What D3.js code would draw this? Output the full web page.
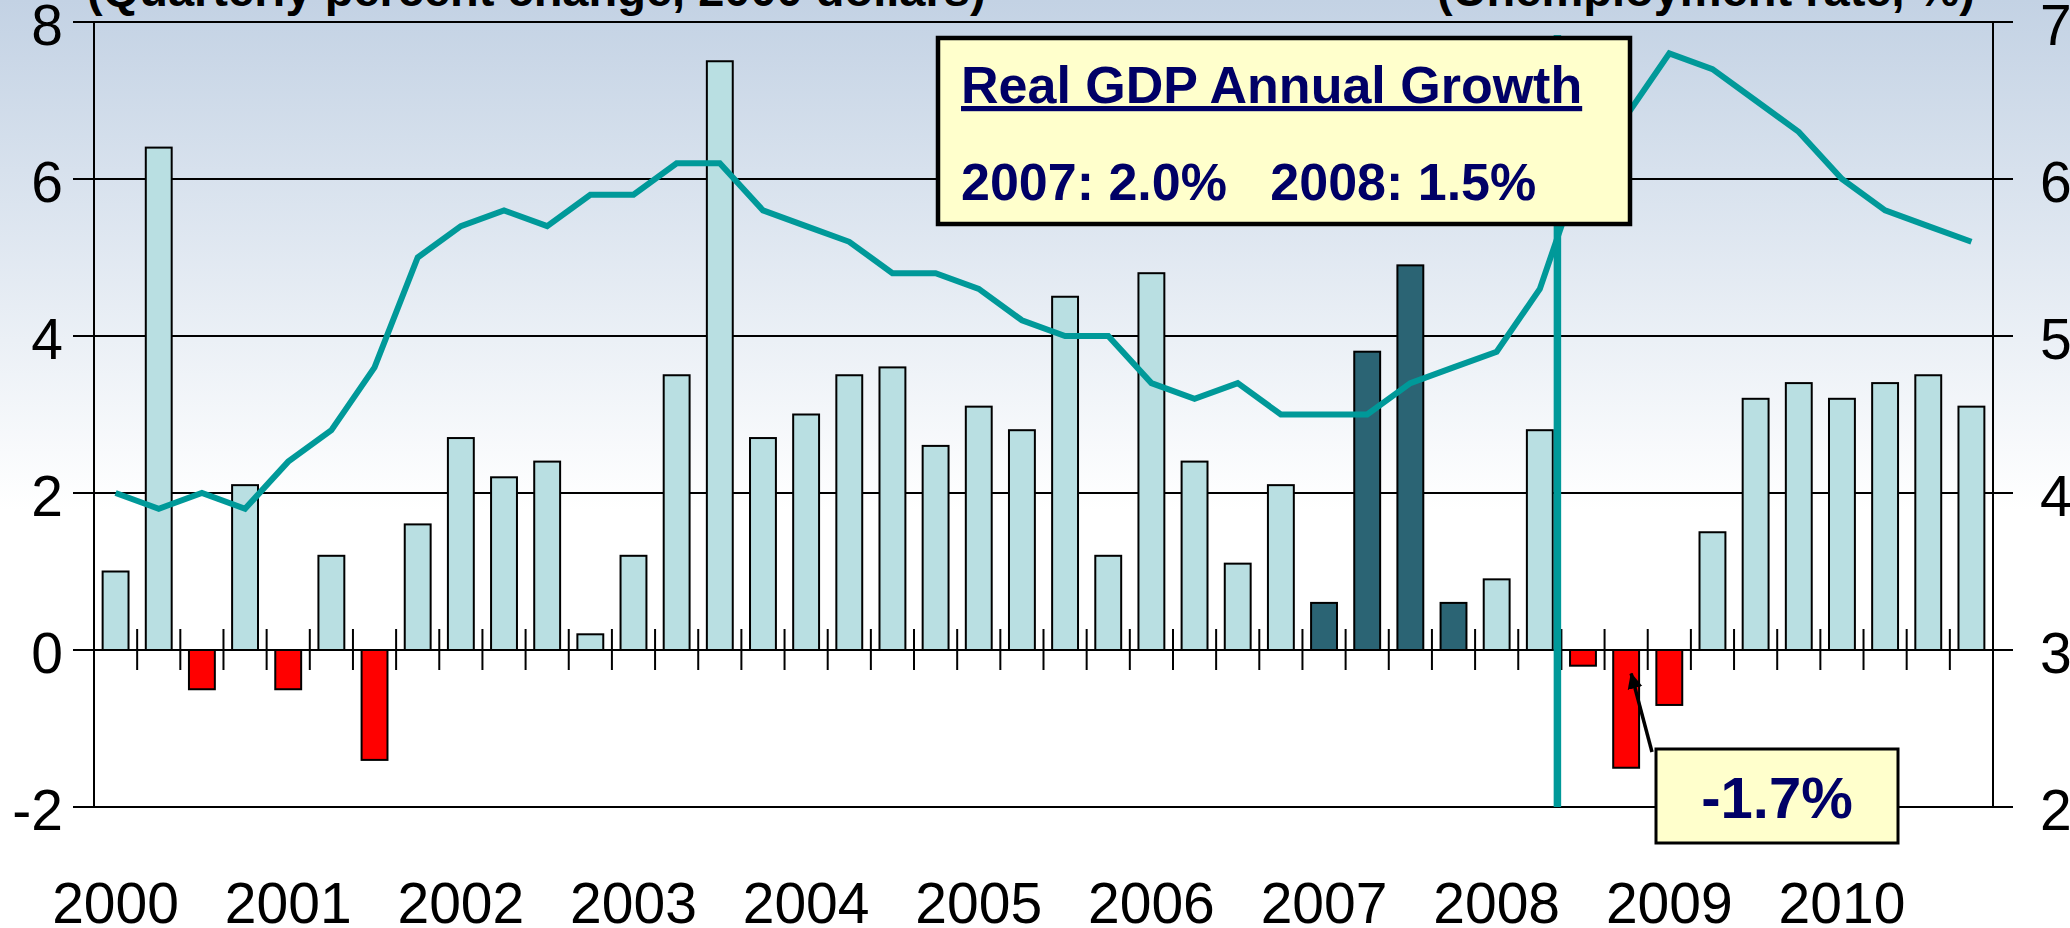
<!DOCTYPE html>
<html>
<head>
<meta charset="utf-8">
<script src="https://cdnjs.cloudflare.com/ajax/libs/d3/7.8.5/d3.min.js"></script>
<style>
  body { margin: 0; background: #fff; }
  svg { display: block; font-family: "Liberation Sans", Arial, sans-serif; }
</style>
</head>
<body>
<div class="container"></div>
<script>
// ---- data ----
const years = [2000, 2001, 2002, 2003, 2004, 2005, 2006, 2007, 2008, 2009, 2010]
const quarterNames = ['Q1', 'Q2', 'Q3', 'Q4']
const quarters = years.flatMap(y => quarterNames.map(q => y + q))

// real GDP, quarterly % change (left axis)
const gdpGrowth = [
  1.0, 6.4, -0.5, 2.1,
  -0.5, 1.2, -1.4, 1.6,
  2.7, 2.2, 2.4, 0.2,
  1.2, 3.5, 7.5, 2.7,
  3.0, 3.5, 3.6, 2.6,
  3.1, 2.8, 4.5, 1.2,
  4.8, 2.4, 1.1, 2.1,
  0.6, 3.8, 4.9, 0.6,
  0.9, 2.8, -0.2, -1.5,
  -0.7, 1.5, 3.2, 3.4,
  3.2, 3.4, 3.5, 3.1
]

// unemployment rate, % (right axis)
const unemployment = [
  4.0, 3.9, 4.0, 3.9,
  4.2, 4.4, 4.8, 5.5,
  5.7, 5.8, 5.7, 5.9,
  5.9, 6.1, 6.1, 5.8,
  5.7, 5.6, 5.4, 5.4,
  5.3, 5.1, 5.0, 5.0,
  4.7, 4.6, 4.7, 4.5,
  4.5, 4.5, 4.7, 4.8,
  4.9, 5.3, 6.1, 6.4,
  6.8, 6.7, 6.5, 6.3,
  6.0, 5.8, 5.7, 5.6
]

const leftTicks = [-2, 0, 2, 4, 6, 8]
const rightTicks = [2, 3, 4, 5, 6, 7]
const highlightYear = '2007'
const annualGrowth = [{year: 2007, value: 2.0}, {year: 2008, value: 1.5}]
const troughValue = -1.7
const troughQuarter = '2008Q4'
const forecastStart = '2008Q3'

// ---- layout ----
const W = 2070, H = 928
let margin = {top: 22, left: 94, right: 77, bottom: 121}
const width = W - margin.left - margin.right
const height = H - margin.top - margin.bottom

const svgRoot = d3.select('.container').append('svg')
  .attr('width', W)
  .attr('height', H)

// background gradient
const defs = svgRoot.append('defs')
const grad = defs.append('linearGradient')
  .attr('id', 'bg').attr('x1', 0).attr('y1', 0).attr('x2', 0).attr('y2', 1)
grad.append('stop').attr('offset', '0%').attr('stop-color', '#c3d2e4')
grad.append('stop').attr('offset', '55%').attr('stop-color', '#ffffff')
grad.append('stop').attr('offset', '100%').attr('stop-color', '#ffffff')

defs.append('marker')
  .attr('id', 'arrow')
  .attr('markerUnits', 'userSpaceOnUse')
  .attr('viewBox', '0 0 16 16')
  .attr('markerWidth', 16).attr('markerHeight', 16)
  .attr('refX', 15).attr('refY', 8)
  .attr('orient', 'auto')
  .append('path')
  .attr('d', 'M0,0.5 L16,8 L0,15.5 Z')
  .attr('fill', '#000')

svgRoot.append('rect').attr('width', W).attr('height', H).attr('fill', 'url(#bg)')

const svg = svgRoot.append('g')
  .attr('transform', `translate(${margin.left},${margin.top})`)

// ---- scales ----
const x = d3.scaleBand().domain(quarters).range([0, width]).paddingInner(0.4).paddingOuter(0.2)
const yL = d3.scaleLinear().domain([-2, 8]).range([height, 0])
const yR = d3.scaleLinear().domain([2, 7]).range([height, 0])
const bw = x.bandwidth()
const gap = (x.step() - bw) / 2
const boundary = q => x(q) - gap

// gridlines (stick out past both axes)
svg.append('g').attr('class', 'grid')
  .selectAll('line')
  .data(leftTicks)
  .enter()
  .append('line')
  .attr('x1', -21).attr('x2', width + 20)
  .attr('y1', d => yL(d)).attr('y2', d => yL(d))
  .attr('stroke', '#000').attr('stroke-width', 2)

// bars
svg.selectAll('.bar')
  .data(gdpGrowth)
  .enter()
  .append('rect')
  .attr('class', 'bar')
  .attr('x', (d, i) => x(quarters[i]))
  .attr('width', bw)
  .attr('y', d => yL(Math.max(0, d)))
  .attr('height', d => Math.abs(yL(d) - yL(0)))
  .attr('fill', (d, i) => d < 0 ? '#ff0000' : (quarters[i].startsWith(highlightYear) ? '#2b6474' : '#b9dfe2'))
  .attr('stroke', '#000').attr('stroke-width', 2)

// zero line again on top + quarter ticks crossing it
svg.append('line')
  .attr('x1', -21).attr('x2', width + 20)
  .attr('y1', yL(0)).attr('y2', yL(0))
  .attr('stroke', '#000').attr('stroke-width', 2)

svg.append('g').attr('class', 'qticks')
  .selectAll('line')
  .data(quarters.slice(1))
  .enter()
  .append('line')
  .attr('x1', d => boundary(d)).attr('x2', d => boundary(d))
  .attr('y1', yL(0) - 21).attr('y2', yL(0) + 20)
  .attr('stroke', '#000').attr('stroke-width', 2)

// axis lines
svg.append('line').attr('x1', 0).attr('x2', 0).attr('y1', 0).attr('y2', height)
  .attr('stroke', '#000').attr('stroke-width', 2)
svg.append('line').attr('x1', width).attr('x2', width).attr('y1', 0).attr('y2', height)
  .attr('stroke', '#000').attr('stroke-width', 2)

// tick labels (plain hyphen for negatives, as in the original)
const yAxisL = svg.append('g')
  .call(d3.axisLeft(yL).tickValues(leftTicks).tickSize(0).tickPadding(31).tickFormat(d => String(d)))
yAxisL.select('.domain').remove()
yAxisL.selectAll('text').attr('dy', '0.39em')

const yAxisR = svg.append('g')
  .attr('transform', `translate(${width},0)`)
  .call(d3.axisRight(yR).tickValues(rightTicks).tickSize(0).tickPadding(47).tickFormat(d => String(d)))
yAxisR.select('.domain').remove()
yAxisR.selectAll('text').attr('dy', '0.39em')

const xAxis = svg.append('g')
  .attr('transform', `translate(0,${H - margin.top - 5})`)
  .call(d3.axisBottom(x).tickValues(quarters.filter(q => q.endsWith('Q1'))).tickSize(0).tickFormat(q => q.slice(0, 4)))
xAxis.select('.domain').remove()
xAxis.selectAll('text').attr('y', 0).attr('dy', 0)

svgRoot.selectAll('.tick text')
  .attr('font-size', 57)
  .attr('font-family', '"Liberation Sans", Arial, sans-serif')
  .attr('fill', '#000')

// unemployment line
const line = d3.line()
  .x((d, i) => x(quarters[i]) + bw / 2)
  .y(d => yR(d))

svg.append('path')
  .datum(unemployment)
  .attr('d', line)
  .attr('fill', 'none')
  .attr('stroke', '#009999')
  .attr('stroke-width', 6)

// "now" marker
svg.append('line')
  .attr('x1', boundary(forecastStart) - 4).attr('x2', boundary(forecastStart) - 4)
  .attr('y1', 13).attr('y2', height)
  .attr('stroke', '#009999').attr('stroke-width', 7.5)

// axis titles (cut off at the top edge)
svgRoot.append('text')
  .attr('x', 87).attr('y', 6)
  .attr('font-size', 47).attr('font-weight', 'bold')
  .text('(Quarterly percent change, 2000 dollars)')
svgRoot.append('text')
  .attr('x', 1975).attr('y', 6)
  .attr('text-anchor', 'end')
  .attr('font-size', 47).attr('font-weight', 'bold')
  .text('(Unemployment rate, %)')

// annual growth box
const box1 = svg.append('g').attr('transform', 'translate(844,16)')
box1.append('rect')
  .attr('width', 692).attr('height', 186)
  .attr('fill', '#ffffcc').attr('stroke', '#000').attr('stroke-width', 4.5)
box1.append('text')
  .attr('x', 23).attr('y', 65)
  .attr('font-size', 52).attr('font-weight', 'bold').attr('fill', '#000066')
  .style('text-decoration', 'underline')
  .text('Real GDP Annual Growth')
box1.append('text')
  .attr('x', 23).attr('y', 162)
  .attr('font-size', 52).attr('font-weight', 'bold').attr('fill', '#000066')
  .style('white-space', 'pre')
  .text(annualGrowth.map(d => `${d.year}: ${d.value.toFixed(1)}%`).join('   '))

// trough callout
const box2 = svg.append('g').attr('transform', 'translate(1562,727)')
box2.append('rect')
  .attr('width', 242).attr('height', 94)
  .attr('fill', '#ffffcc').attr('stroke', '#000').attr('stroke-width', 3)
box2.append('text')
  .attr('x', 121).attr('y', 69)
  .attr('text-anchor', 'middle')
  .attr('font-size', 58).attr('font-weight', 'bold').attr('fill', '#000066')
  .text(`${troughValue.toFixed(1)}%`)

svg.append('line')
  .attr('x1', 1558).attr('y1', 730)
  .attr('x2', x(troughQuarter) + bw / 2 + 5).attr('y2', yL(-0.3))
  .attr('stroke', '#000').attr('stroke-width', 3.5)
  .attr('marker-end', 'url(#arrow)')
</script>
</body>
</html>
